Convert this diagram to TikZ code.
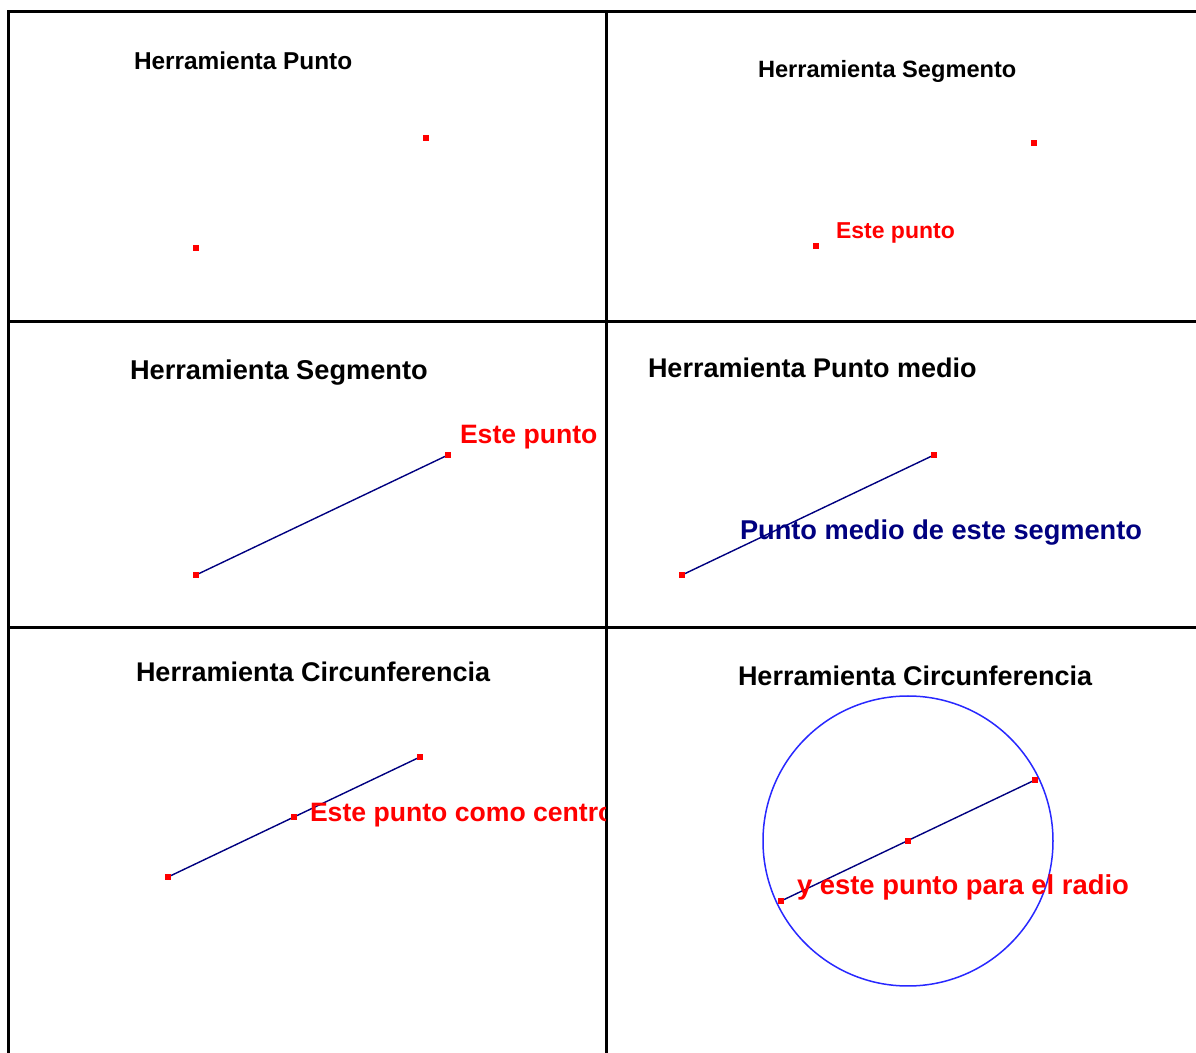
\documentclass[tikz,border=0pt]{standalone}
\usepackage{fontspec}
\setmainfont{Liberation Sans}
\definecolor{rojo}{RGB}{255,0,0}
\definecolor{marino}{RGB}{0,0,128}
\definecolor{azul}{RGB}{40,40,255}
\begin{document}
\begin{tikzpicture}[x=0.5pt,y=-0.5pt,
  grid/.style={line width=1.5pt,black},
  rpt/.style={fill=rojo,draw=none,minimum size=2.6pt,inner sep=0pt,outer sep=0pt,rectangle},
  seg/.style={line width=0.7pt,marino},
  lbl/.style={anchor=base west,inner sep=0pt,outer sep=0pt,font=\bfseries},
  title/.style={lbl,text=black},
  redlbl/.style={lbl,text=rojo},
]
\useasboundingbox (0,0) rectangle (1196,1053);
\fill[white] (0,0) rectangle (1196,1053);
% grid
\draw[grid] (7,12) -- (1196,12);
\draw[grid] (8,12) -- (8,1053);
\draw[grid] (606,12) -- (606,1053);
\draw[grid] (8,322) -- (1196,322);
\draw[grid] (8,628) -- (1196,628);

% Panel 1
\node[title,font=\bfseries\fontsize{12.2}{14}\selectfont] (t1) at (134,70) {Herramienta Punto};
\node[rpt] (p1a) at (426,138) {};
\node[rpt] (p1b) at (196,248) {};

% Panel 2
\node[title,font=\bfseries\fontsize{11.8}{14}\selectfont] (t2) at (758,78) {Herramienta Segmento};
\node[rpt] (p2a) at (1034,143) {};
\node[rpt] (p2b) at (816,246) {};
\node[redlbl,font=\bfseries\fontsize{11.5}{14}\selectfont] (l2) at (836,239) {Este punto};

% Panel 3
\node[title,font=\bfseries\fontsize{13.6}{16}\selectfont] (t3) at (130,380) {Herramienta Segmento};
\coordinate (c3a) at (196,575);
\coordinate (c3b) at (448,455);
\draw[seg] (c3a) -- (c3b);
\node[rpt] (p3a) at (c3a) {};
\node[rpt] (p3b) at (c3b) {};
\node[redlbl,font=\bfseries\fontsize{13.3}{16}\selectfont] (l3) at (460,444) {Este punto};

% Panel 4
\node[title,font=\bfseries\fontsize{13.5}{16}\selectfont] (t4) at (648,378) {Herramienta Punto medio};
\coordinate (c4a) at (682,575);
\coordinate (c4b) at (934,455);
\draw[seg] (c4a) -- (c4b);
\node[rpt] (p4a) at (c4a) {};
\node[rpt] (p4b) at (c4b) {};
\node[lbl,text=marino,font=\bfseries\fontsize{13.6}{16}\selectfont] (l4) at (740,540) {Punto medio de este segmento};

% Panel 5
\node[title,font=\bfseries\fontsize{13.5}{16}\selectfont] (t5) at (136,682) {Herramienta Circunferencia};
\coordinate (c5a) at (168,877);
\coordinate (c5b) at (420,757);
\coordinate (c5m) at (294,817);
\draw[seg] (c5a) -- (c5b);
\node[rpt] (p5a) at (c5a) {};
\node[rpt] (p5b) at (c5b) {};
\node[rpt] (p5m) at (c5m) {};
\begin{scope}
\clip (9,630) rectangle (605,1053);
\node[redlbl,font=\bfseries\fontsize{13.3}{16}\selectfont] (l5) at (310,822) {Este punto como centro};
\end{scope}

% Panel 6
\node[title,font=\bfseries\fontsize{13.5}{16}\selectfont] (t6) at (738,686) {Herramienta Circunferencia};
\coordinate (c6m) at (908,841);
\coordinate (c6a) at (781,901);
\coordinate (c6b) at (1035,780);
\draw[azul,line width=0.75pt] (c6m) circle[radius=145];
\draw[seg] (c6a) -- (c6b);
\node[rpt] (p6a) at (c6a) {};
\node[rpt] (p6b) at (c6b) {};
\node[rpt] (p6m) at (c6m) {};
\node[redlbl,font=\bfseries\fontsize{13.7}{16}\selectfont] (l6) at (797,895) {y este punto para el radio};
\end{tikzpicture}
\end{document}
